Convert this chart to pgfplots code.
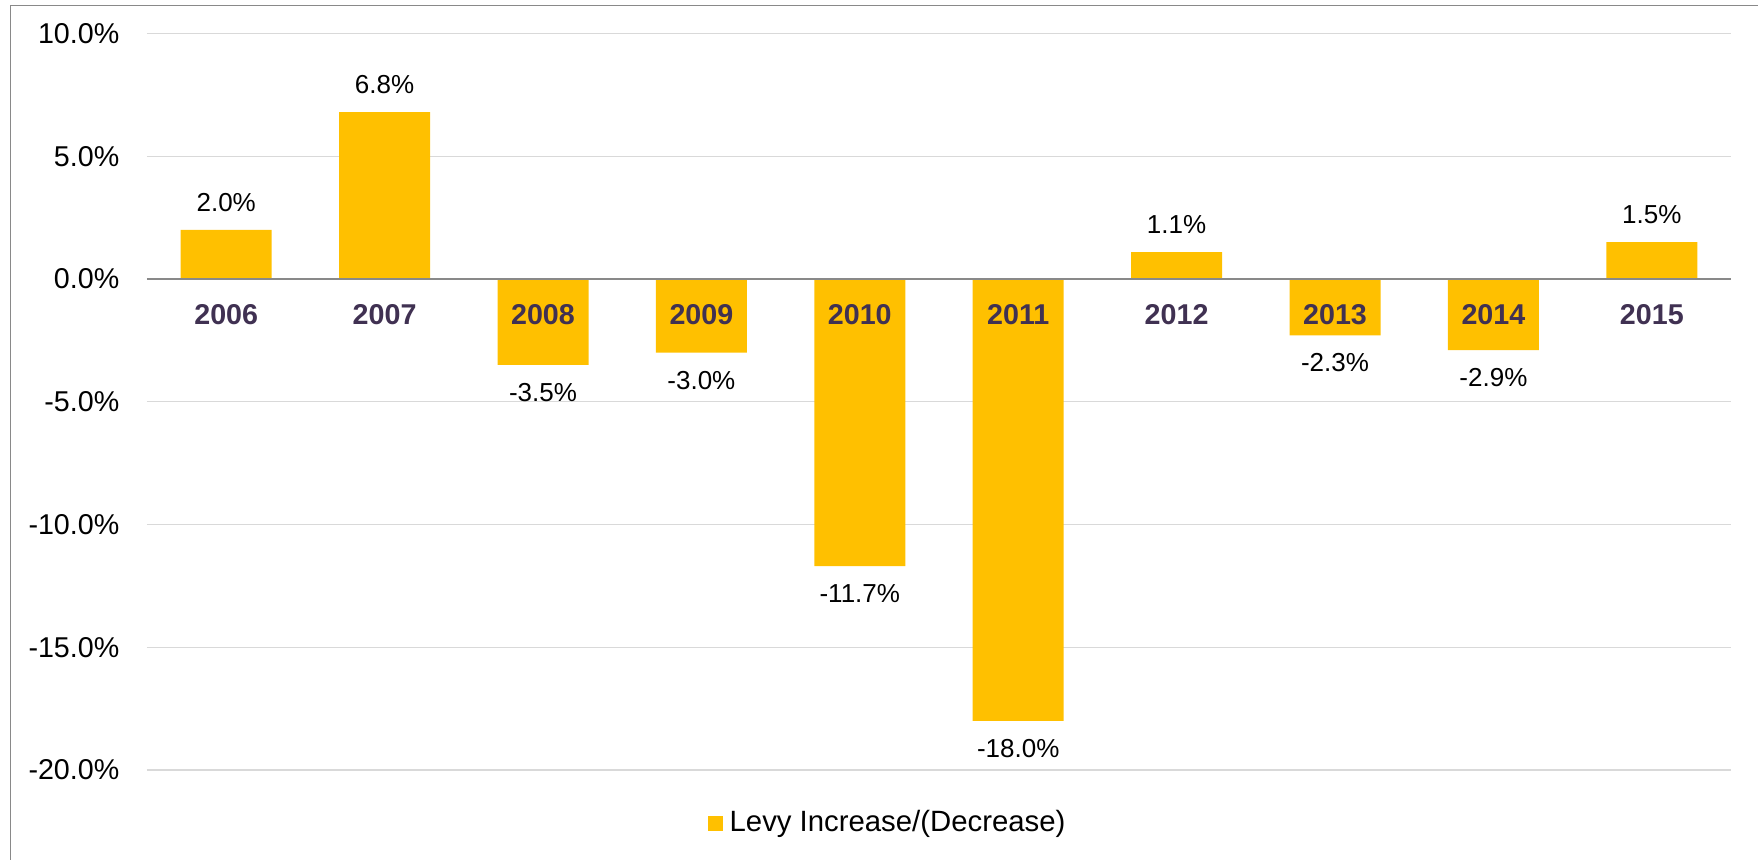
\documentclass[border=0pt]{standalone}
\usepackage{fontspec}
\setmainfont{Liberation Sans}
\usepackage{pgfplots}
\pgfplotsset{compat=1.18}
\definecolor{barcol}{HTML}{FFC000}
\definecolor{labcol}{HTML}{403152}
\definecolor{zerocol}{HTML}{898989}
\definecolor{gridcol}{HTML}{D9D9D9}
\pgfplotsset{layers/mylayers/.define layer set={axis background,axis grid,main,axis ticks,axis lines,axis tick labels,axis descriptions,axis foreground}{
  grid style={/pgfplots/on layer=axis grid},
  tick style={/pgfplots/on layer=axis ticks},
  axis line style={/pgfplots/on layer=axis lines},
  label style={/pgfplots/on layer=axis descriptions},
  legend style={/pgfplots/on layer=axis descriptions},
  ticklabel style={/pgfplots/on layer=axis tick labels},
}}
\begin{document}
\begin{tikzpicture}
\begin{axis}[
 name=ax, set layers=mylayers,
 width=475.2pt, height=220.95pt, scale only axis,
 ybar, bar width=27.3pt,
 xmin=-0.5, xmax=9.5, ymin=-20, ymax=10,
 enlargelimits=false,
 axis x line=middle, axis y line=left,
 x axis line style={-, draw=zerocol, line width=0.5pt},
 y axis line style={draw=none},
 hide obscured x ticks=false, hide obscured y ticks=false,
 xtick={0,...,9},
 xticklabels={2006,2007,2008,2009,2010,2011,2012,2013,2014,2015},
 major tick length=0pt,
 ytick={-20,-15,...,10},
 ymajorgrids, grid style={gridcol, line width=0.35pt},
 /pgf/number format/assume math mode=true,
 yticklabel={\pgfmathprintnumber[fixed,fixed zerofill,precision=1]{\tick}\%},
 yticklabel style={font=\fontsize{8.6}{10}\selectfont, inner sep=0pt, xshift=-8.1pt},
 xticklabel style={font=\fontsize{8.6}{10}\selectfont\bfseries, text=labcol, inner sep=0pt, yshift=-7.4pt},
 nodes near coords={\pgfmathprintnumber[fixed,fixed zerofill,precision=1,assume math mode=true]{\pgfplotspointmeta}\%},
 every node near coord/.append style={font=\fontsize{7.8}{9}\selectfont, inner xsep=0pt, inner ysep=5.3pt, text=black},
 legend style={at={(0.4691,-0.072)}, anchor=center, draw=none, fill=none, font=\fontsize{8.8}{10}\selectfont, inner sep=0pt},
]
\addplot[fill=barcol, draw=none, legend image code/.code={\fill[barcol] (0pt,-2.25pt) rectangle (4.5pt,2.25pt);}] coordinates {
 (0,2.0) (1,6.8) (2,-3.5) (3,-3.0) (4,-11.7) (5,-18.0) (6,1.1) (7,-2.3) (8,-2.9) (9,1.5)
};
\addlegendentry{Levy Increase/(Decrease)}
\end{axis}
\begin{scope}[shift={(ax.south west)}]
\draw[zerocol, line width=0.4pt] (-40.9pt,-40pt) -- (-40.9pt,229.3pt) -- (500pt,229.3pt);
\pgfresetboundingbox
\path[use as bounding box] (-44.1pt,-26.7pt) rectangle (483.3pt,231pt);
\end{scope}
\end{tikzpicture}
\end{document}
